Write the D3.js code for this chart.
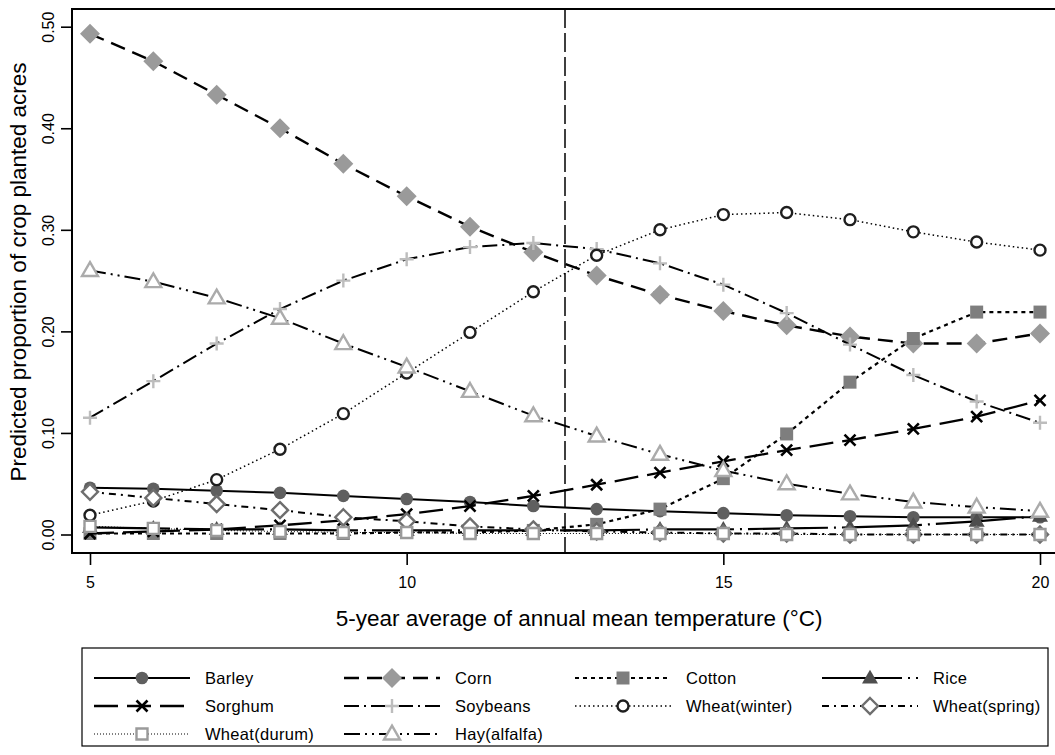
<!DOCTYPE html>
<html>
<head>
<meta charset="utf-8">
<script src="https://cdn.jsdelivr.net/npm/d3@7"></script>
<style>
  html, body { margin: 0; padding: 0; background: #fff; }
  svg { display: block; font-family: "Liberation Sans", Arial, sans-serif; }
</style>
</head>
<body>
<svg id="chart" width="1055" height="755"></svg>
<script>
// ---------------- data ----------------
const temps = [5, 6, 7, 8, 9, 10, 11, 12, 13, 14, 15, 16, 17, 18, 19, 20];
const barley      = [0.046, 0.045, 0.043, 0.041, 0.038, 0.035, 0.032, 0.028, 0.025, 0.023, 0.021, 0.019, 0.018, 0.017, 0.017, 0.017];
const corn        = [0.493, 0.466, 0.433, 0.400, 0.365, 0.333, 0.303, 0.278, 0.255, 0.236, 0.220, 0.206, 0.195, 0.188, 0.188, 0.198];
const cotton      = [0.001, 0.001, 0.001, 0.001, 0.001, 0.002, 0.002, 0.004, 0.010, 0.025, 0.055, 0.099, 0.150, 0.193, 0.219, 0.219];
const rice        = [0.007, 0.006, 0.005, 0.005, 0.004, 0.004, 0.004, 0.004, 0.004, 0.005, 0.005, 0.006, 0.007, 0.009, 0.013, 0.018];
const sorghum     = [0.001, 0.003, 0.005, 0.009, 0.014, 0.020, 0.028, 0.038, 0.049, 0.061, 0.072, 0.083, 0.093, 0.104, 0.116, 0.132];
const soybeans    = [0.115, 0.151, 0.188, 0.222, 0.250, 0.271, 0.283, 0.287, 0.281, 0.267, 0.246, 0.218, 0.187, 0.157, 0.131, 0.110];
const wheatWinter = [0.019, 0.033, 0.054, 0.084, 0.119, 0.159, 0.199, 0.239, 0.275, 0.300, 0.315, 0.317, 0.310, 0.298, 0.288, 0.280];
const wheatSpring = [0.042, 0.036, 0.030, 0.024, 0.017, 0.013, 0.008, 0.005, 0.003, 0.002, 0.001, 0.001, 0.000, 0.000, 0.000, 0.000];
const wheatDurum  = [0.008, 0.006, 0.004, 0.003, 0.002, 0.002, 0.001, 0.001, 0.001, 0.001, 0.001, 0.000, 0.000, 0.000, 0.000, 0.000];
const hay         = [0.260, 0.249, 0.233, 0.213, 0.188, 0.165, 0.141, 0.117, 0.097, 0.079, 0.063, 0.050, 0.040, 0.032, 0.027, 0.023];

const seriesNames = ["Barley", "Corn", "Cotton", "Rice", "Sorghum", "Soybeans",
                     "Wheat(winter)", "Wheat(spring)", "Wheat(durum)", "Hay(alfalfa)"];
const seriesValues = [barley, corn, cotton, rice, sorghum, soybeans,
                      wheatWinter, wheatSpring, wheatDurum, hay];

const xTicks = [5, 10, 15, 20];
const yTicks = [0, 0.1, 0.2, 0.3, 0.4, 0.5];
const yTickLabels = ["0.00", "0.10", "0.20", "0.30", "0.40", "0.50"];
const refLineX = 12.5;
const xTitle = "5-year average of annual mean temperature (°C)";
const yTitle = "Predicted proportion of crop planted acres";

// ---------------- styles ----------------
const styles = [
  { marker: "circle",   fill: "#5f5f5f", stroke: "none",    sw: 0,   size: 6.3, dash: null,                 lw: 2 },
  { marker: "diamond",  fill: "#9a9a9a", stroke: "none",    sw: 0,   size: 10,  dash: "15,8",               lw: 2.4 },
  { marker: "square",   fill: "#7e7e7e", stroke: "none",    sw: 0,   size: 6.5, dash: "4,4",                lw: 2.2 },
  { marker: "triangle", fill: "#4e4e4e", stroke: "none",    sw: 0,   size: 8,   dash: "80,6,2,6",           lw: 2.2 },
  { marker: "x",        fill: "none",    stroke: "#000",    sw: 2.6, size: 5.5, dash: "24,9",               lw: 2.3 },
  { marker: "plus",     fill: "none",    stroke: "#bdbdbd", sw: 2.4, size: 7,   dash: "15,5,2,5",           lw: 2 },
  { marker: "ocircle",  fill: "#fff",    stroke: "#1e1e1e", sw: 2.4, size: 5.5, dash: "1.5,3",              lw: 1.5 },
  { marker: "odiamond", fill: "#fff",    stroke: "#6e6e6e", sw: 2.4, size: 8,   dash: "7,5,2,5",            lw: 2 },
  { marker: "osquare",  fill: "#fff",    stroke: "#9a9a9a", sw: 2.4, size: 5.5, dash: "1,2",                lw: 1 },
  { marker: "otriangle",fill: "#fff",    stroke: "#ababab", sw: 2.4, size: 8,   dash: "16,5,2,5,2,5",       lw: 2 }
];

function markerPath(type, s) {
  switch (type) {
    case "circle": case "ocircle":
      return `M${-s},0A${s},${s} 0 1,0 ${s},0A${s},${s} 0 1,0 ${-s},0Z`;
    case "diamond": case "odiamond":
      return `M0,${-s}L${s},0L0,${s}L${-s},0Z`;
    case "square": case "osquare":
      return `M${-s},${-s}L${s},${-s}L${s},${s}L${-s},${s}Z`;
    case "triangle": case "otriangle": {
      const h = s * 1.732;
      return `M0,${-h * 0.6}L${s},${h * 0.4}L${-s},${h * 0.4}Z`;
    }
    case "x":
      return `M${-s},${-s}L${s},${s}M${-s},${s}L${s},${-s}`;
    case "plus":
      return `M${-s},0L${s},0M0,${-s}L0,${s}`;
  }
}

// ---------------- layout ----------------
const svg = d3.select("#chart");
const frame = { left: 72, top: 9, right: 1060, bottom: 553 };
const x = d3.scaleLinear().domain([5, 20]).range([90, 1040]);
const y = d3.scaleLinear().domain([0, 0.5]).range([534.5, 26.7]);

svg.append("rect").attr("width", 1055).attr("height", 755).attr("fill", "#fff");

// axes
const yAxis = d3.axisLeft(y).tickValues(yTicks)
  .tickFormat((d, i) => yTickLabels[i]).tickSize(11).tickPadding(0);
const gy = svg.append("g").attr("transform", `translate(${frame.left},0)`).call(yAxis);
gy.select(".domain").remove();
gy.selectAll(".tick line").attr("stroke", "#000").attr("stroke-width", 1.6);
gy.selectAll(".tick text")
  .attr("font-size", 16).attr("fill", "#000")
  .attr("text-anchor", "middle").attr("dy", 0)
  .attr("transform", "translate(-18,0) rotate(-90)")
  .attr("x", 0).attr("y", 0);

const xAxis = d3.axisBottom(x).tickValues(xTicks).tickFormat(d3.format("d")).tickSize(12).tickPadding(0);
const gx = svg.append("g").attr("transform", `translate(0,${frame.bottom})`).call(xAxis);
gx.select(".domain").remove();
gx.selectAll(".tick line").attr("stroke", "#000").attr("stroke-width", 1.6);
gx.selectAll(".tick text").attr("font-size", 16).attr("fill", "#000").attr("dy", 0).attr("y", 35);

// frame
svg.append("rect")
  .attr("x", frame.left).attr("y", frame.top)
  .attr("width", frame.right - frame.left).attr("height", frame.bottom - frame.top)
  .attr("fill", "none").attr("stroke", "#000").attr("stroke-width", 2);

// titles
svg.append("text").attr("x", 579).attr("y", 626).attr("text-anchor", "middle")
  .attr("font-size", 22.5).attr("fill", "#000").text(xTitle);
svg.append("text").attr("transform", `translate(26,${272}) rotate(-90)`)
  .attr("text-anchor", "middle").attr("font-size", 22.5).attr("fill", "#000").text(yTitle);

// plot
const plot = svg.append("g");
const line = d3.line().x((d, i) => x(temps[i])).y(d => y(d));

// reference line
plot.append("line")
  .attr("x1", x(refLineX)).attr("x2", x(refLineX))
  .attr("y1", frame.top).attr("y2", frame.bottom)
  .attr("stroke", "#000").attr("stroke-width", 1.5).attr("stroke-dasharray", "19,5");

seriesValues.forEach((vals, k) => {
  const st = styles[k];
  const g = plot.append("g");
  g.append("path").attr("d", line(vals)).attr("fill", "none")
    .attr("stroke", "#000").attr("stroke-width", st.lw)
    .attr("stroke-dasharray", st.dash);
  g.selectAll("path.m").data(vals).enter().append("path").attr("class", "m")
    .attr("d", markerPath(st.marker, st.size))
    .attr("transform", (d, i) => `translate(${x(temps[i])},${y(d)})`)
    .attr("fill", st.fill).attr("stroke", st.stroke).attr("stroke-width", st.sw);
});

// legend
const legendBox = { x: 82, y: 648, w: 966, h: 98 };
svg.append("rect").attr("x", legendBox.x).attr("y", legendBox.y)
  .attr("width", legendBox.w).attr("height", legendBox.h)
  .attr("fill", "#fff").attr("stroke", "#000").attr("stroke-width", 1.2);
const colX = [94, 344, 575, 822];
const rowY = [678, 706, 734];
const sampleW = 96;
seriesNames.forEach((name, k) => {
  const st = styles[k];
  const cx = colX[k % 4], cy = rowY[Math.floor(k / 4)];
  const g = svg.append("g");
  g.append("line").attr("x1", cx).attr("x2", cx + sampleW).attr("y1", cy).attr("y2", cy)
    .attr("stroke", "#000").attr("stroke-width", st.lw).attr("stroke-dasharray", st.dash);
  g.append("path").attr("d", markerPath(st.marker, st.size))
    .attr("transform", `translate(${cx + sampleW / 2},${cy})`)
    .attr("fill", st.fill).attr("stroke", st.stroke).attr("stroke-width", st.sw);
  g.append("text").attr("x", cx + 111).attr("y", cy + 6)
    .attr("font-size", 16.5).attr("letter-spacing", 0.3).attr("fill", "#000").text(name);
});
</script>
</body>
</html>
